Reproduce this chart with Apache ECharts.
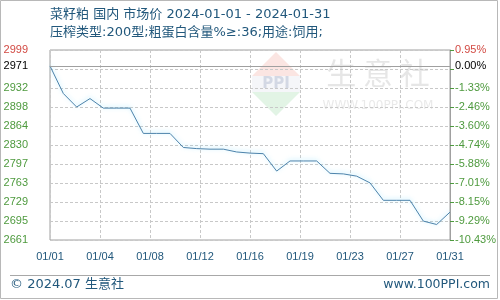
<!DOCTYPE html>
<html><head><meta charset="utf-8">
<script src="https://cdn.jsdelivr.net/npm/echarts@6/dist/echarts.min.js"></script>
<style>html,body{margin:0;padding:0;background:#fff}#c{width:500px;height:300px}</style>
</head><body><div id="c"></div>
<script>
const dates = ['01/01','01/02','01/03','01/04','01/05','01/06','01/07','01/08','01/09','01/10',
  '01/11','01/12','01/13','01/14','01/15','01/16','01/17','01/18','01/19','01/20',
  '01/21','01/22','01/23','01/24','01/25','01/26','01/27','01/28','01/29','01/30','01/31'];
const prices = [2971,2922,2898,2913,2896,2896,2896,2851,2851,2851,
  2826,2824,2823,2823,2818,2816,2815,2784,2802,2802,
  2802,2780,2779,2775,2763,2732,2732,2732,2695,2689,2711];
const leftTicks = ['2661','2695','2729','2763','2797','2830','2864','2898','2932','','2999'];
const rightTicks = ['-10.43%','-9.29%','-8.15%','-7.01%','-5.88%','-4.74%','-3.60%','-2.46%','-1.33%','','0.95%'];
const basePrice = 2971;
const baseLabelLeft = '2971';
const baseLabelRight = '0.00%';
const yMin = 2661.4, yMax = 2999.4, yStep = 33.8;
const title1 = '菜籽粕 国内 市场价 2024-01-01 - 2024-01-31';
const title2 = '压榨类型:200型;粗蛋白含量%≥:36;用途:饲用;';

const RED = '#d24a43', GREEN = '#4e9a3e', BLUE = '#22587c';
function tickIdx(v){ return Math.round((v - yMin) / yStep); }
function tickRich(list){
  return function(v){
    const i = tickIdx(v); const t = list[i] || '';
    if (!t) return '';
    return (i === list.length - 1 ? '{r|' : '{g|') + t + '}';
  };
}
const rich = { r:{color:RED, fontSize:11, fontFamily:'Liberation Sans'}, g:{color:GREEN, fontSize:11, fontFamily:'Liberation Sans'} };

const chart = echarts.init(document.getElementById('c'), null, {renderer:'canvas'});
chart.setOption({
  animation:false,
  backgroundColor:'#fff',
  grid:{left:50, right:50, top:50, height:190, show:true, borderColor:'#a0a0a0', borderWidth:1, backgroundColor:'transparent'},
  graphic:[
    {type:'rect', shape:{x:0.5,y:0.5,width:497,height:298}, style:{fill:'none', stroke:'#b8b8b8', lineWidth:1}, z:-10},
    {type:'text', left:50, top:8, style:{text:title1, fill:BLUE, font:'13px "DejaVu Sans", "Noto Sans CJK SC"'}},
    {type:'text', left:50, top:26, style:{text:title2, fill:BLUE, font:'13px "DejaVu Sans", "Noto Sans CJK SC"'}},
    {type:'line', shape:{x1:10,y1:275.5,x2:490,y2:275.5}, style:{stroke:'#a8a8a8', lineWidth:1}},
    {type:'text', left:10, top:278, style:{text:'© 2024.07 生意社', fill:BLUE, font:'13px "DejaVu Sans", "Noto Sans CJK SC"'}},
    {type:'text', right:10, top:278, style:{text:'www.100PPI.com', fill:BLUE, font:'12.5px "DejaVu Sans"'}},
    // watermark
    {type:'polygon', shape:{points:[[276,52],[300,76],[252,76]]}, style:{fill:'rgba(240,150,140,0.25)'}, z:-5},
    {type:'rect', shape:{x:252,y:76,width:48,height:16}, style:{fill:'rgba(200,205,220,0.18)'}, z:-5},
    {type:'polygon', shape:{points:[[252,92],[300,92],[276,116]]}, style:{fill:'rgba(140,210,150,0.25)'}, z:-5},
    {type:'text', x:276, y:84, style:{text:'PPI', fill:'rgba(150,160,190,0.35)', font:'bold 15px "DejaVu Sans"', align:'center', verticalAlign:'middle'}, z:-5},
    {type:'text', x:378, y:73, style:{text:'生 意 社', fill:'rgba(200,200,200,0.45)', font:'30px "Noto Sans CJK SC"', align:'center', verticalAlign:'middle'}, z:-5},
    {type:'text', x:378, y:106, style:{text:'WWW.100PPI.COM', fill:'rgba(200,200,200,0.4)', font:'12px "DejaVu Sans"', align:'center', verticalAlign:'middle'}, z:-5}
  ],
  xAxis:{
    type:'value', min:0, max:dates.length-1, interval:3.75,
    axisLine:{show:false}, axisTick:{show:false},
    axisLabel:{margin:11, color:BLUE, fontSize:11, fontFamily:'Liberation Sans',
      formatter:function(v){ return dates[Math.floor(v + 1e-6)]; }},
    splitLine:{show:true, lineStyle:{color:'#c8c8c8', type:[3,2], width:1}}
  },
  yAxis:[
    {type:'value', position:'left', min:yMin, max:yMax, interval:yStep,
      axisLine:{show:false}, axisTick:{show:false},
      axisLabel:{margin:22, formatter:tickRich(leftTicks), rich:rich},
      splitLine:{show:true, lineStyle:{color:'#c8c8c8', type:[3,2], width:1}}},
    {type:'value', position:'right', min:yMin, max:yMax, interval:yStep,
      axisLine:{show:true, lineStyle:{color:'#a0a0a0'}},
      axisTick:{show:true, length:4, inside:false, lineStyle:{color:GREEN}},
      axisLabel:{margin:5, formatter:tickRich(rightTicks), rich:rich},
      splitLine:{show:false}}
  ],
  series:[{
    type:'line', yAxisIndex:0,
    data:prices.map((p,i)=>[i,p]),
    symbol:'none', smooth:false,
    lineStyle:{color:'#4d83ab', width:1, shadowColor:'rgba(140,225,255,0.8)', shadowBlur:4, shadowOffsetY:-1},
    markLine:{
      silent:true, symbol:['none','none'], animation:false,
      lineStyle:{color:'#a0a0a0', type:'solid', width:1},
      data:[
        {yAxis:basePrice, label:{position:'start', distance:22, formatter:baseLabelLeft, color:'#000', fontSize:11, fontFamily:'Liberation Sans'}},
        {yAxis:basePrice, label:{position:'end', distance:5, formatter:baseLabelRight, color:'#000', fontSize:11, fontFamily:'Liberation Sans'}}
      ]
    }
  }]
});
</script></body></html>
